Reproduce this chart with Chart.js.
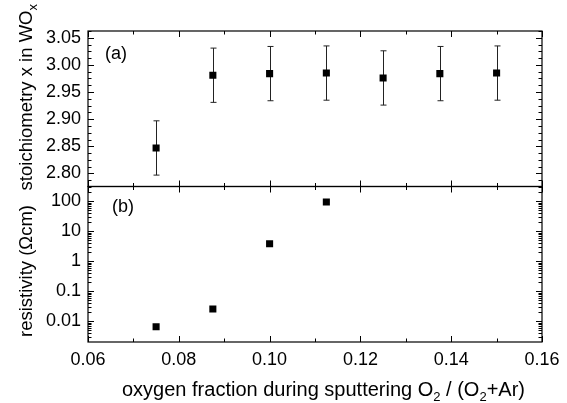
<!DOCTYPE html>
<html>
<head>
<meta charset="utf-8">
<script src="https://cdn.jsdelivr.net/npm/chart.js@4/dist/chart.umd.min.js"></script>
<style>
html,body{margin:0;padding:0;background:#fff;}
#c{display:block;}
</style>
</head>
<body>
<canvas id="c" width="567" height="403"></canvas>
<script>
// ---- data ----
const oxygenFraction = [0.075, 0.0875, 0.1, 0.1125, 0.125, 0.1375, 0.15];
const stoichiometry  = [2.847, 2.981, 2.984, 2.985, 2.976, 2.984, 2.985];
const stoichError    = [0.05, 0.05, 0.05, 0.05, 0.05, 0.05, 0.05];
const resFraction    = [0.075, 0.0875, 0.1, 0.1125];
const resistivity    = [0.0066, 0.026, 3.9, 96];

const xTickValues = [0.06, 0.08, 0.10, 0.12, 0.14, 0.16];
const xTickLabels = ['0.06', '0.08', '0.10', '0.12', '0.14', '0.16'];
const stoichTickValues = [2.80, 2.85, 2.90, 2.95, 3.00, 3.05];
const stoichTickLabels = ['2.80', '2.85', '2.90', '2.95', '3.00', '3.05'];
const resTickValues = [0.01, 0.1, 1, 10, 100];
const resTickLabels = ['0.01', '0.1', '1', '10', '100'];

const FONT = "'Liberation Sans', Arial, Helvetica, sans-serif";
const FS = 18;

function labelFor(values, labels) {
  return function (v) {
    for (let i = 0; i < values.length; i++) {
      if (Math.abs(values[i] - v) <= Math.abs(values[i]) * 1e-6) return labels[i];
    }
    return '';
  };
}

const decor = {
  id: 'decor',
  beforeDatasetsDraw(chart) {
    const ctx = chart.ctx, xs = chart.scales.x, ys = chart.scales.y;
    ctx.save();
    ctx.strokeStyle = '#222';
    ctx.lineWidth = 1;
    for (let i = 0; i < oxygenFraction.length; i++) {
      const px = Math.round(xs.getPixelForValue(oxygenFraction[i])) + 0.5;
      const pt = ys.getPixelForValue(stoichiometry[i] + stoichError[i]);
      const pb = ys.getPixelForValue(stoichiometry[i] - stoichError[i]);
      ctx.beginPath();
      ctx.moveTo(px, pt); ctx.lineTo(px, pb);
      ctx.moveTo(px - 3, pt); ctx.lineTo(px + 3, pt);
      ctx.moveTo(px - 3, pb); ctx.lineTo(px + 3, pb);
      ctx.stroke();
    }
    ctx.restore();
  },
  afterDraw(chart) {
    const ctx = chart.ctx, xs = chart.scales.x, ys = chart.scales.y, yr = chart.scales.yr;
    const L = xs.left, R = xs.right;
    const MAJ = 6, MIN = 3.5;
    ctx.save();
    ctx.strokeStyle = '#000';
    ctx.lineWidth = 1.2;
    const panels = [ys, yr];
    panels.forEach(p => { ctx.strokeRect(L, p.top, R - L, p.bottom - p.top); });

    ctx.lineWidth = 1;
    ctx.beginPath();
    const xMax = xs.max;
    for (let k = 0; k <= 20; k++) {
      const v = 0.06 + k * 0.01;
      if (v > xMax + 1e-9) break;
      const major = k % 2 === 0;
      const len = major ? MAJ : MIN;
      const px = Math.round(xs.getPixelForValue(v)) + 0.5;
      panels.forEach(p => {
        ctx.moveTo(px, p.top); ctx.lineTo(px, p.top + len);
        ctx.moveTo(px, p.bottom); ctx.lineTo(px, p.bottom - len);
      });
    }
    for (let k = 0; k <= 40; k++) {
      const v = 2.75 + k * 0.0125;
      if (v < ys.min - 1e-9 || v > ys.max + 1e-9) continue;
      const major = k % 4 === 0;
      const len = major ? MAJ : MIN;
      const py = Math.round(ys.getPixelForValue(v)) + 0.5;
      ctx.moveTo(L, py); ctx.lineTo(L + len, py);
      ctx.moveTo(R, py); ctx.lineTo(R - len, py);
    }
    for (let e = -3; e <= 2; e++) {
      for (let m = 1; m <= 9; m++) {
        const v = m * Math.pow(10, e);
        if (v < yr.min || v > yr.max) continue;
        const len = m === 1 ? MAJ : MIN;
        const py = Math.round(yr.getPixelForValue(v)) + 0.5;
        ctx.moveTo(L, py); ctx.lineTo(L + len, py);
        ctx.moveTo(R, py); ctx.lineTo(R - len, py);
      }
    }
    ctx.stroke();

    ctx.fillStyle = '#000';
    ctx.font = FS + 'px ' + FONT;
    ctx.textBaseline = 'alphabetic';
    ctx.textAlign = 'left';
    ctx.fillText('(a)', L + 17, ys.top + 28);
    ctx.fillText('(b)', L + 24, yr.top + 25);

    // x title with subscripts
    const XT = 20, SUB = 13;
    const parts = [['oxygen fraction during sputtering O', 0], ['2', 1], [' / (O', 0], ['2', 1], ['+Ar)', 0]];
    let x = 122;
    const by = 396;
    parts.forEach(([t, sub]) => {
      ctx.font = (sub ? SUB : XT) + 'px ' + FONT;
      ctx.fillText(t, x, by + (sub ? 5 : 0));
      x += ctx.measureText(t).width;
    });

    // y titles (rotated)
    const YT = 18.5;
    ctx.save();
    ctx.translate(32, 0);
    ctx.rotate(-Math.PI / 2);
    ctx.font = YT + 'px ' + FONT;
    ctx.fillText('resistivity (\u03A9cm)', -337, 0);
    const tParts = [['stoichiometry x in WO', 0], ['x', 1]];
    let tw = 0;
    tParts.forEach(([t, sub]) => { ctx.font = (sub ? SUB : YT) + 'px ' + FONT; tw += ctx.measureText(t).width; });
    let ty = -4 - tw;
    tParts.forEach(([t, sub]) => {
      ctx.font = (sub ? SUB : YT) + 'px ' + FONT;
      ctx.fillText(t, ty, sub ? 5 : 0);
      ty += ctx.measureText(t).width;
    });
    ctx.restore();
    ctx.restore();
  }
};

new Chart(document.getElementById('c'), {
  type: 'scatter',
  data: {
    datasets: [
      {
        label: 'stoichiometry',
        data: oxygenFraction.map((x, i) => ({ x: x, y: stoichiometry[i] })),
        yAxisID: 'y',
        pointStyle: 'rect',
        pointRadius: 5,
        pointBorderWidth: 0,
        backgroundColor: '#000',
        borderColor: '#000'
      },
      {
        label: 'resistivity',
        data: resFraction.map((x, i) => ({ x: x, y: resistivity[i] })),
        yAxisID: 'yr',
        pointStyle: 'rect',
        pointRadius: 5,
        pointBorderWidth: 0,
        backgroundColor: '#000',
        borderColor: '#000'
      }
    ]
  },
  options: {
    responsive: false,
    animation: false,
    events: [],
    layout: { padding: { top: 31, right: 25, left: 0, bottom: 0 } },
    plugins: { legend: { display: false }, tooltip: { enabled: false } },
    scales: {
      yr: {
        type: 'logarithmic', position: 'left', stack: 'panels', stackWeight: 1,
        min: 0.00205, max: 315,
        afterBuildTicks: s => { s.ticks = resTickValues.map(v => ({ value: v })); },
        afterFit: s => { s.width = 88; },
        ticks: {
          callback: labelFor(resTickValues, resTickLabels), autoSkip: false,
          color: '#000', font: { family: FONT, size: FS }, padding: 7
        },
        grid: { display: false, drawTicks: false },
        border: { display: false }
      },
      y: {
        type: 'linear', position: 'left', stack: 'panels', stackWeight: 1,
        min: 2.776, max: 3.0625,
        afterBuildTicks: s => { s.ticks = stoichTickValues.map(v => ({ value: v })); },
        afterFit: s => { s.width = 88; },
        ticks: {
          callback: labelFor(stoichTickValues, stoichTickLabels), autoSkip: false,
          color: '#000', font: { family: FONT, size: FS }, padding: 7
        },
        grid: { display: false, drawTicks: false },
        border: { display: false }
      },
      x: {
        type: 'linear', position: 'bottom', min: 0.06, max: 0.16,
        afterBuildTicks: s => { s.ticks = xTickValues.map(v => ({ value: v })); },
        afterFit: s => { s.height = 61; },
        ticks: {
          callback: labelFor(xTickValues, xTickLabels), autoSkip: false, maxRotation: 0,
          color: '#000', font: { family: FONT, size: FS }, padding: 7
        },
        grid: { display: false, drawTicks: false },
        border: { display: false }
      }
    }
  },
  plugins: [decor]
});
</script>
</body>
</html>
